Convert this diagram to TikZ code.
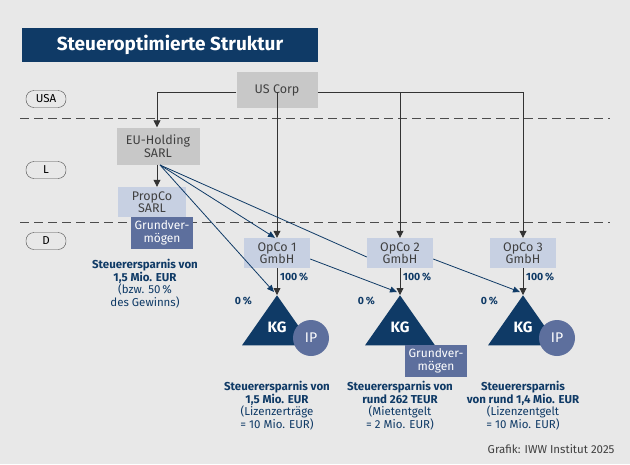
\documentclass[tikz,border=0pt]{standalone}
\usepackage{fontspec}
\setmainfont{Fira Sans}
\usetikzlibrary{arrows.meta,shapes.geometric}
\definecolor{navy}{HTML}{0F3A66}
\definecolor{steel}{HTML}{5D6F9D}
\definecolor{pale}{HTML}{C7D0E2}
\definecolor{boxgray}{HTML}{C8C8C8}
\definecolor{bg}{HTML}{E8E8E8}
\tikzset{
  entity/.style={fill=#1, minimum width=66pt, minimum height=30pt, inner sep=1pt, align=center, font=\fontsize{12.5}{12.5}\selectfont, text=black!75},
  asset/.style={fill=steel, text=white, minimum width=62pt, minimum height=32pt, inner sep=1pt, align=center, font=\fontsize{12}{12.5}\selectfont},
  country/.style={draw=black!70, rounded corners=8pt, minimum width=40pt, minimum height=17pt, inner sep=0pt, font=\fontsize{11.5}{11.5}\selectfont},
  saving/.style={align=center, text=navy, font=\fontsize{11.5}{12.5}\selectfont},
  pct/.style={text=navy, font=\bfseries\fontsize{10.5}{11}\selectfont, inner sep=1pt},
  link/.style={navy, thick, -{Triangle[length=7pt,width=6pt]}},
  own/.style={black!80, thick, -{Triangle[length=7pt,width=7pt]}},
  kg/.style={fill=navy, text=white, isosceles triangle, isosceles triangle apex angle=70, isosceles triangle stretches, shape border rotate=90, minimum height=50pt, minimum width=70pt, inner sep=0pt},
  ip/.style={circle, fill=steel, text=white, minimum size=36pt, inner sep=0pt, font=\fontsize{14}{14}\selectfont}
}
\begin{document}
\begin{tikzpicture}[x=1pt, y=-1pt]
        \fill[bg] (0,0) rectangle (630,464);
        \useasboundingbox (0,0) rectangle (630,464);
        % Title
        \node[fill=navy, text=white, minimum width=296pt, minimum height=34pt, font=\fontsize{19}{19}\selectfont\bfseries, inner sep=0pt] (title) at (170,45) {Steueroptimierte Struktur};
        % Country bands
        \draw[black!70, thick, dash pattern=on 9pt off 5pt] (20,118) -- (610,118);
        \draw[black!70, thick, dash pattern=on 9pt off 5pt] (20,222) -- (610,222);
        \node[country] (usa) at (46,99) {USA};
        \node[country] (lux) at (46,170) {L};
        \node[country] (deu) at (46,241) {D};
        % Companies
        \node[entity=boxgray, minimum width=81pt, minimum height=36pt] (uscorp) at (277,90) {US Corp};
        \node[entity=boxgray, minimum width=83pt, minimum height=37pt] (euhold) at (158,146) {EU-Holding\\SARL};
        \node[entity=pale, minimum width=68pt] (propco) at (152,202) {PropCo\\SARL};
        \node[asset] (grund1) at (162,233) {Grundver-\\mögen};
        \node[entity=pale] (opco1) at (277,253) {OpCo 1\\GmbH};
        \node[entity=pale] (opco2) at (400,253) {OpCo 2\\GmbH};
        \node[entity=pale] (opco3) at (523,253) {OpCo 3\\GmbH};
        % KG entities
        \foreach \x/\n in {277/1, 400/2, 523/3} {
            \node[kg, anchor=apex] (kg\n) at (\x,295) {};
            \node[text=white, font=\bfseries\fontsize{15}{15}\selectfont] (kglabel\n) at (\x,327) {KG};
        }
        \node[ip] (ip1) at (311,338) {IP};
        \node[ip] (ip3) at (557,338) {IP};
        \node[asset] (grund2) at (436,361) {Grundver-\\mögen};
        % Ownership from US Corp
        \coordinate (usleft) at (157,92);
        \coordinate (usright) at (523,92);
        \draw[black!80, thick] (uscorp.west |- usleft) -- (usleft);
        \draw[own] (usleft) -- (euhold.north -| usleft);
        \draw[black!80, thick] (uscorp.east |- usright) -- (usright);
        \foreach \n in {1,2,3} {
            \draw[own] (opco\n.north |- usright) -- (opco\n.north);
            \draw[own] (opco\n.south) -- (kg\n.apex);
            \node[pct, anchor=west] (full\n) at ([xshift=2pt,yshift=-9pt]opco\n.south) {100\,\%};
        }
        \draw[own] (euhold.south -| usleft) -- (propco.north -| usleft);
        % Links from EU-Holding
        \coordinate (hub) at (160,165);
        \draw[link] (hub) -- ([xshift=-3pt,yshift=3pt]kg1.apex);
        \draw[link] (hub) -- ([xshift=-2pt]opco1.north);
        \draw[navy, thick] (hub) -- ([yshift=-4pt]opco2.west);
        \draw[link] ([yshift=-6pt]opco1.east) -- ([xshift=-3pt,yshift=3pt]kg2.apex);
        \draw[link] ([yshift=-6pt]opco2.east) -- ([xshift=-3pt,yshift=3pt]kg3.apex);
        \foreach \n in {1,2,3} {
            \node[pct, anchor=east] (zero\n) at ([xshift=-24pt,yshift=-6pt]kg\n.apex) {0\,\%};
        }
        % Savings
        \node[saving, anchor=north] (save0) at (145,256) {\textbf{Steuerersparnis von}\\\textbf{1,5 Mio. EUR}\\(bzw. 50\,\%\\des Gewinns)};
        \node[saving, anchor=north] (save1) at (277,378) {\textbf{Steuerersparnis von}\\\textbf{1,5 Mio. EUR}\\(Lizenzerträge\\= 10 Mio. EUR)};
        \node[saving, anchor=north] (save2) at (400,378) {\textbf{Steuerersparnis von}\\\textbf{rund 262 TEUR}\\(Mietentgelt\\= 2 Mio. EUR)};
        \node[saving, anchor=north] (save3) at (523,378) {\textbf{Steuerersparnis}\\\textbf{von rund 1,4 Mio. EUR}\\(Lizenzentgelt\\= 10 Mio. EUR)};
        \node[anchor=east, text=black!75, font=\fontsize{11.5}{11.5}\selectfont] (credit) at (618,449) {Grafik: IWW Institut 2025};
\end{tikzpicture}
\end{document}
